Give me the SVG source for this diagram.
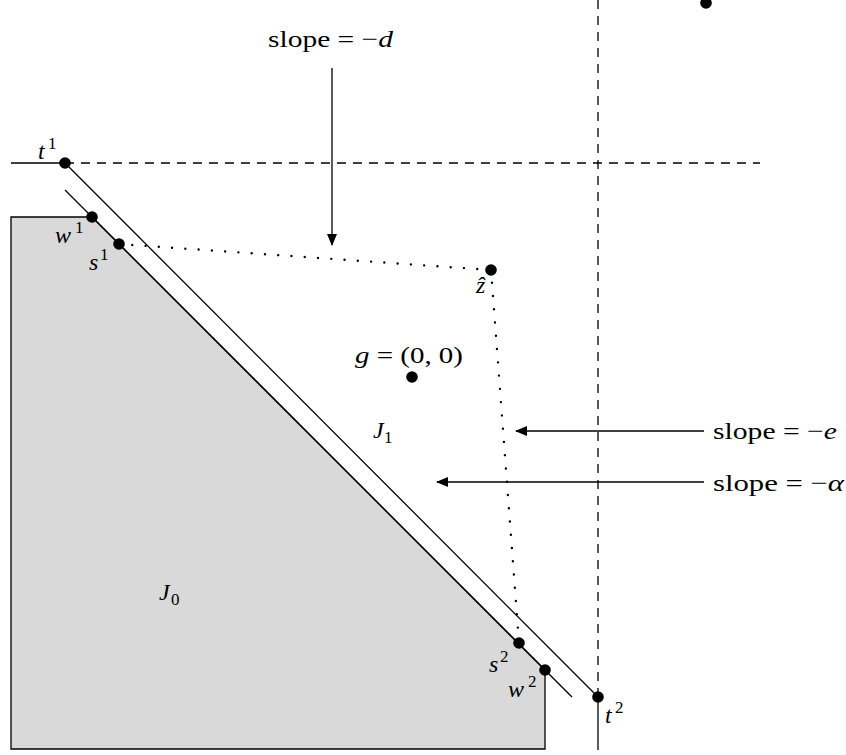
<svg xmlns="http://www.w3.org/2000/svg" width="846" height="755" viewBox="0 0 846 755">
<style>
.ln{stroke:#000;stroke-width:1.3;fill:none}
.dash{stroke:#000;stroke-width:1.3;fill:none;stroke-dasharray:9 7}
.dot{stroke:#000;stroke-width:2.4;fill:none;stroke-linecap:round;stroke-dasharray:0 13.3}
.pt{fill:#000}
text{font-family:"Liberation Serif","DejaVu Serif",serif;font-size:24px;fill:#000}
.it{font-style:italic}
.sub{font-size:17px;font-style:normal}
</style>
<defs>
<marker id="ah" markerWidth="12" markerHeight="10" refX="11" refY="5" orient="auto" markerUnits="userSpaceOnUse">
<path d="M0,0 L12,5 L0,10 Z" fill="#000"/>
</marker>
</defs>
<g id="J0-region">
<polygon points="11,217 92,217 545,670 545,749 11,749" fill="#d9d9d9" stroke="#000" stroke-width="1.3"/>
</g>
<g id="connectors">
<line class="ln" x1="11" y1="163" x2="65" y2="163"/>
<line class="dash" x1="65" y1="163" x2="760" y2="163"/>
<line class="dash" x1="598" y1="697" x2="598" y2="0"/>
<line class="ln" x1="598" y1="697" x2="598" y2="750"/>
<line class="ln" x1="65" y1="163" x2="598" y2="697"/>
<line class="ln" x1="65" y1="190" x2="572" y2="697"/>
<polyline class="dot" points="119,244 491,270 519,643"/>
<line class="ln" x1="332" y1="68" x2="332" y2="245" marker-end="url(#ah)"/>
<line class="ln" x1="704" y1="431" x2="516" y2="431" marker-end="url(#ah)"/>
<line class="ln" x1="704" y1="482" x2="437" y2="482" marker-end="url(#ah)"/>
</g>
<g id="t1"><circle class="pt" cx="65" cy="163" r="5.8"/><text x="38" y="159" class="it">t</text><text x="48" y="149" class="sub">1</text></g>
<g id="w1"><circle class="pt" cx="92" cy="217" r="5.8"/><text x="55" y="243" class="it">w</text><text x="75" y="233" class="sub">1</text></g>
<g id="s1"><circle class="pt" cx="119" cy="244" r="5.8"/><text x="89" y="270" class="it">s</text><text x="100" y="260" class="sub">1</text></g>
<g id="zhat"><circle class="pt" cx="491" cy="270" r="5.8"/><text x="476" y="293" class="it">ẑ</text></g>
<g id="g"><circle class="pt" cx="412" cy="377" r="5.8"/><text x="355" y="363" textLength="108" lengthAdjust="spacingAndGlyphs"><tspan class="it">g</tspan> = (0, 0)</text></g>
<g id="J1"><text x="373" y="438" class="it">J</text><text x="384" y="443" class="sub">1</text></g>
<g id="J0"><text x="159" y="600" class="it">J</text><text x="171" y="605" class="sub">0</text></g>
<g id="s2"><circle class="pt" cx="519" cy="643" r="5.8"/><text x="489" y="672" class="it">s</text><text x="500" y="662" class="sub">2</text></g>
<g id="w2"><circle class="pt" cx="545" cy="670" r="5.8"/><text x="508" y="697" class="it">w</text><text x="528" y="687" class="sub">2</text></g>
<g id="t2"><circle class="pt" cx="598" cy="697" r="5.8"/><text x="605" y="723" class="it">t</text><text x="615" y="713" class="sub">2</text></g>
<g id="topdot"><circle class="pt" cx="706" cy="3" r="5.8"/></g>
<g id="label-d"><text x="268" y="47" textLength="125" lengthAdjust="spacingAndGlyphs">slope = −<tspan class="it">d</tspan></text></g>
<g id="label-e"><text x="713" y="439" textLength="124" lengthAdjust="spacingAndGlyphs">slope = −<tspan class="it">e</tspan></text></g>
<g id="label-a"><text x="713" y="491" textLength="131" lengthAdjust="spacingAndGlyphs">slope = −<tspan class="it">α</tspan></text></g>
</svg>
